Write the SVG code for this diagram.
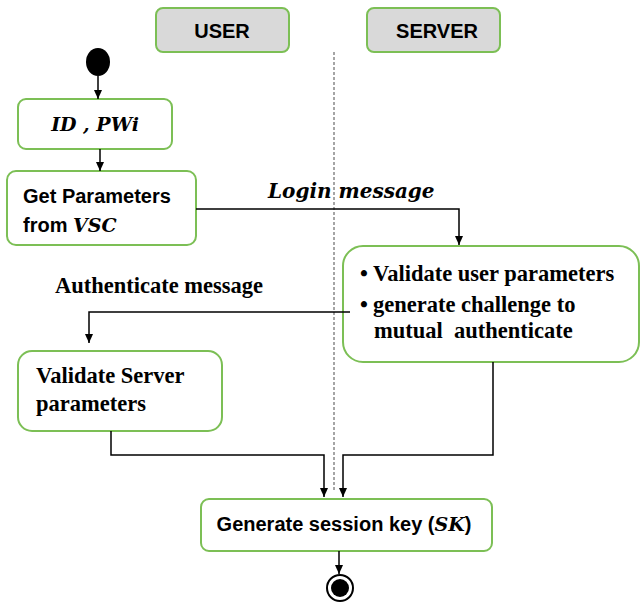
<svg xmlns="http://www.w3.org/2000/svg" width="640" height="604" viewBox="0 0 640 604">
<style>
.box{fill:#fff;stroke:#7cbf55;stroke-width:2}
.hdr{fill:#d9d9d9;stroke:#7cbf55;stroke-width:2}
.ln{fill:none;stroke:#000;stroke-width:1.5}
.sans{font-family:"Liberation Sans",Arial,sans-serif;font-weight:bold;font-size:20px;fill:#000}
.ser{font-family:"Liberation Serif","Times New Roman",serif;font-weight:bold;font-size:22.5px;fill:#000;white-space:pre}
.math{font-family:"DejaVu Serif","Liberation Serif",serif;font-weight:bold;font-style:italic;fill:#000}
</style>
<defs>
<marker id="ah" markerWidth="10" markerHeight="10" refX="9" refY="5" orient="auto" markerUnits="userSpaceOnUse">
<path d="M0,1 L9,5 L0,9 Z" fill="#000"/>
</marker>
</defs>
<line x1="334" y1="52" x2="334" y2="490" stroke="#888" stroke-width="1.5" stroke-dasharray="3,2"/>
<g id="user-lane"><rect class="hdr" x="156" y="8" width="133" height="44" rx="7"/><text class="sans" x="222" y="38" text-anchor="middle">USER</text></g>
<g id="server-lane"><rect class="hdr" x="367" y="8" width="133" height="44" rx="7"/><text class="sans" x="437" y="38" text-anchor="middle">SERVER</text></g>
<g id="start"><ellipse cx="98" cy="62" rx="12" ry="14" fill="#000"/></g>
<g id="id-pwi"><rect class="box" x="18" y="99" width="154" height="50" rx="8"/><text class="math" x="95" y="131" font-size="19" text-anchor="middle">ID , PWi</text></g>
<g id="get-params"><rect class="box" x="7" y="171" width="189" height="74" rx="9"/><text class="sans" x="23" y="203">Get Parameters</text><text class="sans" x="23" y="232">from <tspan class="math" font-size="19">VSC</tspan></text></g>
<g id="server-validate"><rect class="box" x="343" y="246" width="296" height="116" rx="20"/>
<text class="ser" x="360" y="281" font-size="16">•</text><text class="ser" x="373" y="281">Validate user parameters</text>
<text class="ser" x="360" y="312" font-size="16">•</text><text class="ser" x="373" y="312">generate challenge to</text>
<text class="ser" x="374" y="338">mutual  authenticate</text></g>
<g id="validate-server"><rect class="box" x="18" y="351" width="204" height="80" rx="14"/><text class="ser" x="36" y="383">Validate Server</text><text class="ser" x="36" y="411">parameters</text></g>
<g id="gen-sk"><rect class="box" x="201" y="499" width="291" height="52" rx="8"/><text class="sans" x="344" y="531" text-anchor="middle">Generate session key (<tspan class="math" font-size="19">SK</tspan>)</text></g>
<g id="end"><circle cx="340" cy="588" r="13" fill="#fff" stroke="#000" stroke-width="2"/><circle cx="340" cy="588" r="9" fill="#000"/></g>
<g id="connectors">
<path class="ln" d="M98,76 V99" marker-end="url(#ah)"/>
<path class="ln" d="M100,149 V171" marker-end="url(#ah)"/>
<path class="ln" d="M196,209 H459 V245" marker-end="url(#ah)"/>
<path class="ln" d="M350,312 H89 V343" marker-end="url(#ah)"/>
<path class="ln" d="M111,431 V455 H324 V497" marker-end="url(#ah)"/>
<path class="ln" d="M493,362 V455 H343 V497" marker-end="url(#ah)"/>
<path class="ln" d="M339,551 V574" marker-end="url(#ah)"/>
</g>
<text class="math" x="268" y="198" font-size="20">Login message</text>
<text class="ser" x="55" y="293">Authenticate message</text>
</svg>
